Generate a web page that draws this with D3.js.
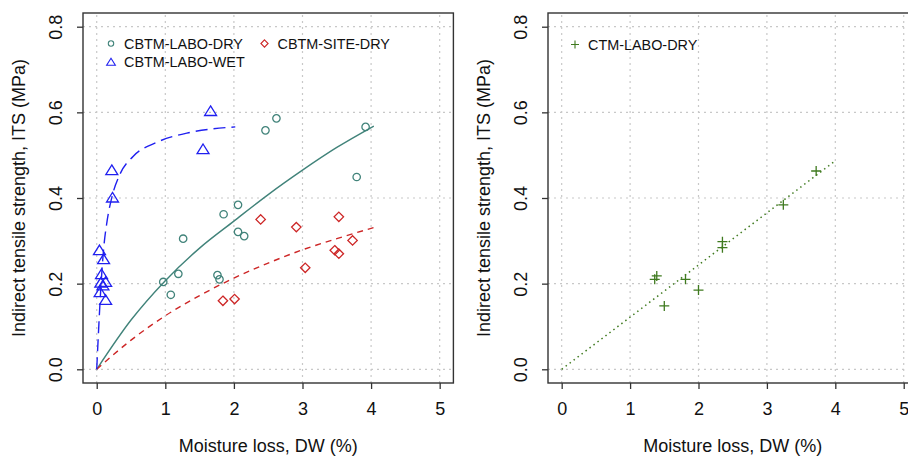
<!DOCTYPE html>
<html>
<head>
<meta charset="utf-8">
<script src="https://cdn.jsdelivr.net/npm/d3@7"></script>
<style>
  body { margin: 0; background: #fff; }
  svg { font-family: "Liberation Sans", Arial, sans-serif; }
</style>
</head>
<body>
<div id="chart"></div>
<script>
// ---- data ----
const xTicks = [0, 1, 2, 3, 4, 5];
const yTicks = [0.0, 0.2, 0.4, 0.6, 0.8];

// CBTM-LABO-DRY (circles)
const laboDryX = [0.97, 1.08, 1.19, 1.26, 1.76, 1.79, 1.85, 2.06, 2.06, 2.15, 2.46, 2.62, 3.79, 3.92];
const laboDryY = [0.204, 0.174, 0.223, 0.305, 0.220, 0.210, 0.362, 0.384, 0.321, 0.311, 0.558, 0.586, 0.449, 0.566];
// CBTM-SITE-DRY (diamonds)
const siteDryX = [2.39, 2.91, 3.53, 3.73, 3.47, 3.53, 3.04, 1.84, 2.01];
const siteDryY = [0.350, 0.332, 0.356, 0.301, 0.278, 0.270, 0.237, 0.160, 0.164];
// CBTM-LABO-WET (triangles)
const laboWetX = [0.04, 0.10, 0.07, 0.06, 0.13, 0.09, 0.05, 0.13, 0.22, 0.23, 1.55, 1.66];
const laboWetY = [0.278, 0.257, 0.222, 0.202, 0.204, 0.196, 0.180, 0.162, 0.465, 0.401, 0.514, 0.603];
// CTM-LABO-DRY (crosses)
const ctmDryX = [1.39, 1.36, 1.50, 1.81, 2.00, 2.35, 2.35, 3.24, 3.72];
const ctmDryY = [0.218, 0.210, 0.148, 0.210, 0.185, 0.298, 0.284, 0.384, 0.463];

// fitted curves, points
const fitLaboDryX = [0, 0.5, 1.0, 1.5, 2.0, 2.5, 3.0, 3.5, 4.04];
const fitLaboDryY = [0, 0.115, 0.207, 0.283, 0.346, 0.408, 0.465, 0.518, 0.568];
const fitSiteDryX = [0, 0.5, 1.0, 1.5, 2.0, 2.5, 3.0, 3.5, 4.06];
const fitSiteDryY = [0, 0.068, 0.125, 0.172, 0.213, 0.248, 0.279, 0.305, 0.332];
const fitLaboWetX = [0, 0.03, 0.06, 0.10, 0.15, 0.22, 0.34, 0.53, 0.875, 1.36, 2.02];
const fitLaboWetY = [0, 0.10, 0.19, 0.28, 0.345, 0.401, 0.456, 0.497, 0.530, 0.553, 0.566];
const fitCtmDryX = [0, 4.0];
const fitCtmDryY = [0, 0.487];

const colDry = "#41837a", colSite = "#cd2626", colWet = "#2020f0", colCtm = "#3f7a1f";

const width = 908, height = 457;
const svg = d3.select("#chart").append("svg")
  .attr("width", width)
  .attr("height", height);

const zip = (xs, ys) => xs.map((x, i) => ({x: x, y: ys[i]}));

function drawPanel(left, right, titleX) {
  const x = d3.scaleLinear().domain([-0.2, 5.2]).range([left, right]);
  const y = d3.scaleLinear().domain([-0.032, 0.832]).range([383, 13]);
  const g = svg.append("g");

  // grid
  g.selectAll(".vgrid").data(xTicks).enter().append("line")
    .attr("x1", d => x(d)).attr("x2", d => x(d))
    .attr("y1", y.range()[0]).attr("y2", y.range()[1])
    .attr("stroke", "#c8c8c8").attr("stroke-width", 1.2).attr("stroke-dasharray", "2,4");
  g.selectAll(".hgrid").data(yTicks).enter().append("line")
    .attr("x1", left).attr("x2", right)
    .attr("y1", d => y(d)).attr("y2", d => y(d))
    .attr("stroke", "#c8c8c8").attr("stroke-width", 1.2).attr("stroke-dasharray", "2,4");

  // axes
  const xAxis = g.append("g")
    .attr("transform", `translate(0,${y.range()[0]})`)
    .call(d3.axisBottom(x).tickValues(xTicks).tickSize(6).tickPadding(13).tickFormat(d3.format("d")));
  const yAxis = g.append("g")
    .attr("transform", `translate(${left},0)`)
    .call(d3.axisLeft(y).tickValues(yTicks).tickSize(6).tickFormat(d3.format(".1f")));
  [xAxis, yAxis].forEach(a => {
    a.select(".domain").remove();
    a.selectAll("line").attr("stroke", "#333").attr("stroke-width", 1.3);
    a.selectAll("text").style("font-size", "18px").attr("fill", "#111");
  });
  // R style: y tick labels written along the axis
  yAxis.selectAll(".tick text")
    .attr("x", null)
    .attr("text-anchor", "middle")
    .attr("dy", "0.35em")
    .attr("transform", "translate(-27.5,0) rotate(-90)");

  // box
  g.append("rect")
    .attr("x", left).attr("y", y.range()[1])
    .attr("width", right - left).attr("height", y.range()[0] - y.range()[1])
    .attr("fill", "none").attr("stroke", "#333").attr("stroke-width", 1.4);

  // titles
  g.append("text")
    .attr("x", (left + right) / 2).attr("y", 446).attr("dy", "0.35em")
    .attr("text-anchor", "middle").style("font-size", "18px").attr("fill", "#111")
    .text("Moisture loss, DW (%)");
  g.append("text")
    .attr("transform", `translate(${titleX},198) rotate(-90)`)
    .attr("dy", "0.35em")
    .attr("text-anchor", "middle").style("font-size", "18px").attr("fill", "#111")
    .text("Indirect tensile strength, ITS (MPa)");

  return {x: x, y: y, g: g};
}

const L = drawPanel(83, 453.4, 19);
const R = drawPanel(548, 917.4, 484);

function fitLine(p, xs, ys, color, dash, w) {
  p.g.append("path")
    .datum(zip(xs, ys))
    .attr("fill", "none").attr("stroke", color).attr("stroke-width", w)
    .attr("stroke-dasharray", dash)
    .attr("d", d3.line().x(d => p.x(d.x)).y(d => p.y(d.y)).curve(d3.curveMonotoneX));
}

const sym = {
  circle: s => d3.symbol().type(d3.symbolCircle).size(Math.PI * s * s)(),
  diamond: s => `M0,${-s}L${s},0L0,${s}L${-s},0Z`,
  triangle: s => `M0,${-s}L${s * 1.15},${s * 0.85}L${-s * 1.15},${s * 0.85}Z`,
  cross: s => `M${-s},0H${s}M0,${-s}V${s}`
};

function points(p, xs, ys, shape, s, color) {
  p.g.selectAll(null).data(zip(xs, ys)).enter().append("path")
    .attr("transform", d => `translate(${p.x(d.x)},${p.y(d.y)})`)
    .attr("d", sym[shape](s))
    .attr("fill", "none").attr("stroke", color).attr("stroke-width", 1.3);
}

// left panel
fitLine(L, fitLaboDryX, fitLaboDryY, colDry, null, 1.4);
fitLine(L, fitSiteDryX, fitSiteDryY, colSite, "6,5", 1.4);
fitLine(L, fitLaboWetX, fitLaboWetY, colWet, "12,6", 1.4);
points(L, laboDryX, laboDryY, "circle", 3.7, colDry);
points(L, siteDryX, siteDryY, "diamond", 4.7, colSite);
points(L, laboWetX, laboWetY, "triangle", 5.2, colWet);

// right panel
fitLine(R, fitCtmDryX, fitCtmDryY, colCtm, "1.5,3.5", 1.5);
points(R, ctmDryX, ctmDryY, "cross", 5, colCtm);

// legends
function legendItem(p, lx, ly, shape, s, color, label) {
  p.g.append("path")
    .attr("transform", `translate(${lx},${ly})`)
    .attr("d", sym[shape](s))
    .attr("fill", "none").attr("stroke", color).attr("stroke-width", 1.1);
  p.g.append("text")
    .attr("x", lx + 13).attr("y", ly).attr("dy", "0.35em")
    .style("font-size", "14.4px").attr("fill", "#111")
    .text(label);
}
legendItem(L, 111, 43.5, "circle", 2.7, colDry, "CBTM-LABO-DRY");
legendItem(L, 264.5, 43.5, "diamond", 3.6, colSite, "CBTM-SITE-DRY");
legendItem(L, 111, 62, "triangle", 3.8, colWet, "CBTM-LABO-WET");
legendItem(R, 575, 44.5, "cross", 4, colCtm, "CTM-LABO-DRY");
</script>
</body>
</html>
